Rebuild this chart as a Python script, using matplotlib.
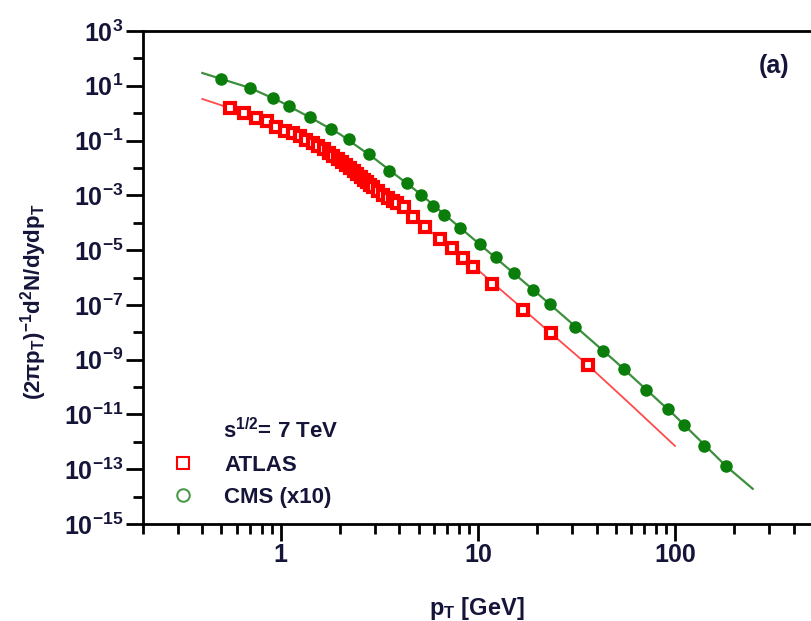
import matplotlib
matplotlib.use('Agg')
import matplotlib.pyplot as plt
import matplotlib.ticker as ticker
from matplotlib.lines import Line2D

plt.rcParams['font.family'] = ['Liberation Sans', 'DejaVu Sans']
plt.rcParams['font.weight'] = 'bold'
plt.rcParams['axes.labelweight'] = 'bold'
plt.rcParams['mathtext.fontset'] = 'custom'
plt.rcParams['mathtext.rm'] = 'Liberation Sans:bold'
plt.rcParams['mathtext.bf'] = 'Liberation Sans:bold'
plt.rcParams['mathtext.it'] = 'Liberation Sans:bold'

# ── data ──────────────────────────────────────────────────────────────────────
atlas_pt = [0.55, 0.65, 0.75, 0.85, 0.95, 1.05, 1.15, 1.25, 1.35, 1.45, 1.55, 1.65,
            1.75, 1.85, 1.95, 2.05, 2.15, 2.25, 2.35, 2.45, 2.55, 2.65, 2.75, 2.85,
            2.95, 3.1, 3.3, 3.5, 3.7, 3.9, 4.2, 4.7, 5.4, 6.45, 7.4, 8.4, 9.5, 11.8,
            17.0, 23.5, 36.3]
atlas_y = [1.55, 1.02, 0.668, 0.498, 0.313, 0.215, 0.182, 0.141, 0.105, 0.0817,
           0.0609, 0.0473, 0.0352, 0.0263, 0.0204, 0.0159, 0.0123, 0.0096, 0.00778,
           0.00604, 0.00470, 0.00365, 0.00296, 0.00240, 0.00194, 0.00145, 0.00104,
           7.7e-4, 6.25e-4, 5.28e-4, 3.62e-4, 1.63e-4, 7.0e-5, 2.46e-5, 1.20e-5,
           5.19e-6, 2.44e-6, 5.84e-7, 6.3e-8, 9.5e-9, 6.5e-10]

cms_pt = [0.5, 0.7, 0.91, 1.1, 1.4, 1.79, 2.21, 2.79, 3.56, 4.35, 5.17, 5.95, 6.77,
          8.15, 10.2, 12.4, 15.3, 19.1, 23.3, 31.2, 43.2, 55.2, 71.3, 92.2, 111, 140, 181]
cms_y = [17.7, 8.3, 3.59, 1.83, 0.73, 0.265, 0.114, 0.0324, 7.8e-3, 2.84e-3, 1.04e-3,
         4.1e-4, 1.93e-4, 6.45e-5, 1.68e-5, 5.65e-6, 1.47e-6, 3.5e-7, 1.09e-7, 1.57e-8,
         2.1e-9, 4.6e-10, 7.9e-11, 1.6e-11, 4.2e-12, 7.1e-13, 1.33e-13]

# fit curves
atlas_fit_pt = [0.40, 0.55, 0.75, 1.0, 1.5, 2.0, 3.0, 5.0, 10, 20, 36, 60, 100]
atlas_fit_y = [3.3, 1.55, 0.67, 0.26, 0.07, 0.018, 1.75e-3, 1.1e-4, 1.9e-6, 2.5e-8,
               6.5e-10, 2.2e-11, 7.1e-13]
cms_fit_pt = [0.40, 0.5, 0.7, 1.0, 1.5, 2.0, 3.0, 5.0, 10, 20, 50, 100, 181, 248]
cms_fit_y = [29.3, 17.7, 8.3, 2.6, 0.545, 0.17, 0.0216, 1.27e-3, 1.86e-5, 2.67e-7,
             8.5e-10, 8.9e-12, 1.33e-13, 1.93e-14]

y_exps = [3, 1, -1, -3, -5, -7, -9, -11, -13, -15]
x_ticks = [1, 10, 100]

txt = '#15153a'
red = '#ff0000'
green = '#0a7d0a'

fig = plt.figure(figsize=(8.11, 6.21), dpi=100)
ax = fig.add_axes([143 / 811, 97 / 621, 668 / 811, 493 / 621])

ax.plot(atlas_fit_pt, atlas_fit_y, color='#ff4a4a', lw=1.3, zorder=2)
ax.plot(cms_fit_pt, cms_fit_y, color='#3d8f3d', lw=1.6, zorder=2)
ax.plot(atlas_pt, atlas_y, ls='none', marker='s', ms=7.2, mfc='white', mec=red,
        mew=3.0, zorder=3)
ax.plot(cms_pt, cms_y, ls='none', marker='o', ms=8.0, mfc=green, mec=green,
        mew=1.0, zorder=3)

ax.set_xscale('log')
ax.set_yscale('log')
ax.set_xlim(0.2, 490)
ax.set_ylim(1e-15, 1e3)

ax.set_yticks([10.0 ** e for e in y_exps])
ax.set_yticklabels([r'$\mathbf{10^{%d}}$' % e for e in y_exps])
ax.yaxis.set_minor_locator(ticker.FixedLocator([10.0 ** e for e in range(2, -15, -2)]))
ax.yaxis.set_minor_formatter(ticker.NullFormatter())
ax.set_xticks(x_ticks)
ax.set_xticklabels([str(v) for v in x_ticks])
ax.xaxis.set_minor_locator(ticker.LogLocator(base=10, subs=range(2, 10), numticks=20))
ax.xaxis.set_minor_formatter(ticker.NullFormatter())

ax.tick_params(which='major', direction='out', length=12, width=2, labelsize=18,
               labelcolor=txt, pad=2)
ax.tick_params(which='minor', direction='out', length=7, width=2)
ax.tick_params(right=False, top=False, which='both')
for s in ['left', 'bottom', 'top']:
    ax.spines[s].set_linewidth(2)
ax.spines['right'].set_visible(False)

ax.set_ylabel(r'$\mathbf{(2\pi p_T)^{-1}d^2N/dydp_T}$', fontsize=16, color=txt)
ax.yaxis.set_label_coords(-0.14, 0.45)
ax.set_xlabel(r'$\mathbf{p_T}$ [GeV]', fontsize=17, color=txt, fontweight='bold')
ax.xaxis.set_label_coords(0.5, -0.145)

ax.text(0.945, 0.93, '(a)', transform=ax.transAxes, fontsize=18, color=txt,
        ha='center', va='center')

ax.text(0.12, 0.19, r'$\mathbf{s^{1/2}}$= 7 TeV', transform=ax.transAxes,
        fontsize=16, color=txt, ha='left', va='center')
handles = [Line2D([], [], ls='none', marker='s', ms=9, mfc='none', mec=red, mew=1.5),
           Line2D([], [], ls='none', marker='o', ms=9, mfc='none', mec='#4a9a4a', mew=1.5)]
leg = ax.legend(handles, ['ATLAS', 'CMS (x10)'], loc='lower left',
                bbox_to_anchor=(0.005, -0.008), frameon=False, fontsize=16,
                handletextpad=1.1, labelspacing=0.5, handlelength=1.5)
for t in leg.get_texts():
    t.set_color(txt)
    t.set_fontweight('bold')

fig.savefig('out.png', dpi=100)
